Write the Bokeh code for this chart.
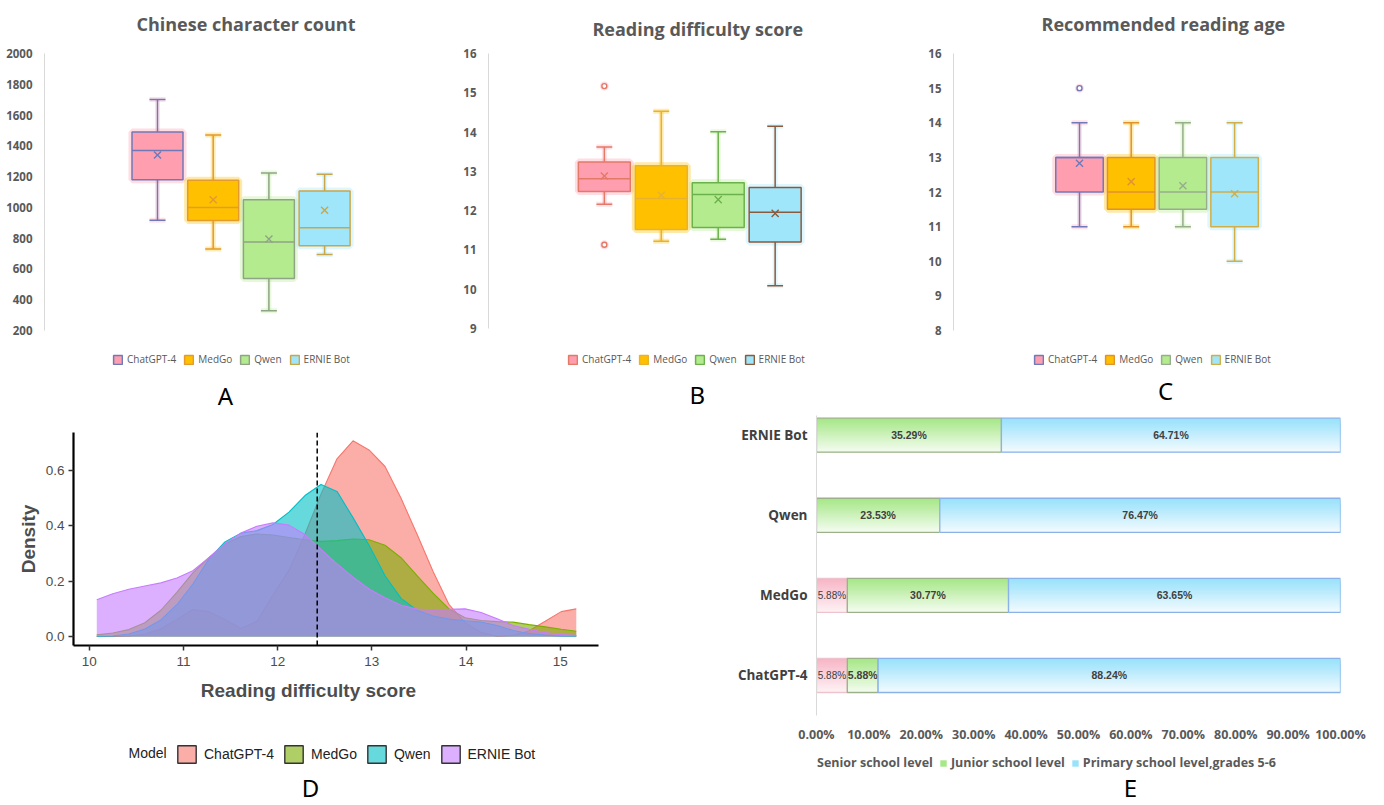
import numpy as np
from bokeh.plotting import figure
from bokeh.layouts import row, column
from bokeh.models import (ColumnDataSource, Legend, LegendItem, FixedTicker,
                          Range1d, Span, Label)
from bokeh.embed import file_html
from bokeh.resources import INLINE

# ---------------------------------------------------------------- data
models = ["ChatGPT-4", "MedGo", "Qwen", "ERNIE Bot"]

# A: Chinese character count (box statistics)
char_low = [917, 729, 328, 694]
char_q1 = [1180, 914, 538, 751]
char_med = [1369, 1000, 775, 868]
char_q3 = [1490, 1176, 1050, 1106]
char_high = [1701, 1470, 1223, 1215]
char_mean = [1340, 1050, 794, 981]
char_outliers = [[], [], [], []]
char_ticks = [200, 400, 600, 800, 1000, 1200, 1400, 1600, 1800, 2000]

# B: Reading difficulty score
diff_low = [12.16, 11.22, 11.27, 10.09]
diff_q1 = [12.49, 11.52, 11.57, 11.20]
diff_med = [12.81, 12.31, 12.41, 11.96]
diff_q3 = [13.24, 13.14, 12.71, 12.59]
diff_high = [13.62, 14.53, 14.01, 14.15]
diff_mean = [12.88, 12.39, 12.28, 11.93]
diff_outliers = [[15.17, 11.13], [], [], []]
diff_ticks = [9, 10, 11, 12, 13, 14, 15, 16]

# C: Recommended reading age
age_low = [11, 11, 11, 10]
age_q1 = [12, 11.5, 11.5, 11]
age_med = [13, 12, 12, 12]
age_q3 = [13, 13, 13, 13]
age_high = [14, 14, 14, 14]
age_mean = [12.83, 12.30, 12.18, 11.95]
age_outliers = [[15], [], [], []]
age_ticks = [8, 9, 10, 11, 12, 13, 14, 15, 16]

# D: density of reading difficulty score
dens_x = [10.08, 10.25, 10.42, 10.59, 10.76, 10.93, 11.10, 11.27, 11.44, 11.61,
          11.78, 11.95, 12.12, 12.29, 12.46, 12.63, 12.80, 12.97, 13.14, 13.31,
          13.48, 13.65, 13.82, 13.99, 14.16, 14.33, 14.50, 14.67, 14.84, 15.01, 15.17]
dens_chatgpt = [0.0, 0.0, 0.002, 0.008, 0.028, 0.062, 0.098, 0.090, 0.062, 0.029,
                0.055, 0.150, 0.240, 0.370, 0.515, 0.643, 0.708, 0.675, 0.615, 0.500,
                0.370, 0.235, 0.115, 0.050, 0.015, 0.001, 0.004, 0.021, 0.055, 0.090, 0.100]
dens_medgo = [0.006, 0.013, 0.025, 0.050, 0.095, 0.160, 0.230, 0.285, 0.335, 0.362,
              0.371, 0.367, 0.358, 0.350, 0.344, 0.347, 0.353, 0.350, 0.330, 0.285,
              0.220, 0.157, 0.100, 0.068, 0.058, 0.054, 0.052, 0.043, 0.035, 0.026, 0.019]
dens_qwen = [0.0, 0.002, 0.009, 0.027, 0.060, 0.115, 0.190, 0.280, 0.342, 0.374,
             0.383, 0.405, 0.450, 0.510, 0.550, 0.525, 0.430, 0.330, 0.220, 0.138,
             0.095, 0.074, 0.063, 0.057, 0.052, 0.040, 0.022, 0.011, 0.005, 0.002, 0.001]
dens_ernie = [0.133, 0.155, 0.171, 0.183, 0.194, 0.212, 0.238, 0.285, 0.336, 0.374,
              0.399, 0.411, 0.403, 0.369, 0.315, 0.263, 0.215, 0.172, 0.140, 0.113,
              0.099, 0.096, 0.098, 0.100, 0.087, 0.064, 0.040, 0.026, 0.014, 0.007, 0.004]
mean_difficulty = 12.42
dens_ticks_x = [10, 11, 12, 13, 14, 15]
dens_ticks_y = [0.0, 0.2, 0.4, 0.6]

# E: reading level shares (%)
levels = ["Senior school level", "Junior school level", "Primary school level,grades 5-6"]
senior = [5.88, 5.88, 0.0, 0.0]
junior = [5.88, 30.77, 23.53, 35.29]
primary = [88.24, 63.65, 76.47, 64.71]
pct_ticks = [0, 10, 20, 30, 40, 50, 60, 70, 80, 90, 100]

# ---------------------------------------------------------------- style
XL = "Open Sans"
GG = "Liberation Sans"
box_fill = ["#FF9EAF", "#FFC000", "#B4EB8E", "#A0E6FA"]
lines_A = ["#6F79B8", "#E39A2E", "#8FA386", "#C9A64A"]
lines_B = ["#E27A67", "#E8B22E", "#6CB24C", "#8A5A3F"]
lines_C = ["#7079BA", "#E0922E", "#97AD8E", "#D1AE48"]
gg_cols = ["#F8766D", "#7CAE00", "#00BFC4", "#C77CFF"]
OFF = -1.0e6   # legend proxy glyphs are parked far outside the visible ranges


def base_fig(w, h, **kw):
    p = figure(width=w, height=h, output_backend="svg", toolbar_location=None,
               outline_line_color=None, **kw)
    p.grid.visible = False
    return p


def footer(w, h, lb, rb, specs, leg_kw, leg_loc, letter, lx, ly):
    fw = w - lb - rb
    f = base_fig(w, h, x_axis_type=None, y_axis_type=None, x_range=Range1d(0, fw),
                 y_range=Range1d(0, h), min_border_left=lb, min_border_right=rb,
                 min_border_top=0, min_border_bottom=0)
    items = []
    for lab, kw in specs:
        r = f.quad(left=[OFF], right=[OFF + 1], top=[OFF + 1], bottom=[OFF], **kw)
        items.append(LegendItem(label=lab, renderers=[r]))
    leg = Legend(items=items, orientation="horizontal", location=leg_loc,
                 border_line_color=None, background_fill_alpha=0, **leg_kw)
    f.add_layout(leg)
    f.add_layout(Label(x=lx, y=ly, text=letter, text_align="center", text_baseline="middle",
                       text_font="Noto Sans", text_font_size="24px", text_color="#000000"))
    return f


def box_panel(title, title_px, title_cy, stats, lcols, yr, yticks, width, lb, fw,
              data_top, data_bot, c0f, step, bw):
    low, q1, med, q3, high, mean, outl = stats
    tb, fbot, height = 5, 330, 345
    ppu = (data_bot - data_top) / (yr[1] - yr[0])
    y_end = yr[1] + (data_top - tb) / ppu
    y_start = yr[0] - (fbot - data_bot) / ppu
    p = base_fig(width, height, x_axis_type=None,
                 x_range=Range1d(-c0f / step, (fw - c0f) / step),
                 y_range=Range1d(y_start, y_end),
                 min_border_left=lb, min_border_right=width - lb - fw,
                 min_border_top=tb, min_border_bottom=height - fbot)
    p.add_layout(Label(x=(title_px - c0f) / step, y=yr[1] + (data_top - title_cy) / ppu,
                       text=title, text_align="left", text_baseline="middle",
                       text_font=XL, text_font_size="18px", text_font_style="bold",
                       text_color="#595959"))
    ax = p.yaxis[0]
    ax.ticker = FixedTicker(ticks=yticks)
    ax.bounds = (yr[0], yr[1])
    ax.axis_line_color = "#D9D9D9"
    ax.major_tick_line_color = None
    ax.minor_tick_line_color = None
    ax.major_label_text_font = XL
    ax.major_label_text_font_size = "11.5px"
    ax.major_label_text_font_style = "bold"
    ax.major_label_text_color = "#595959"
    ax.major_label_standoff = 6
    hw = bw / step / 2
    cw = 8 / step
    for i, m in enumerate(models):
        fc, lc = box_fill[i], lcols[i]
        src = ColumnDataSource(dict(x=[i], l=[i - hw], r=[i + hw], cl=[i - cw], cr=[i + cw],
                                    low=[low[i]], q1=[q1[i]], med=[med[i]], q3=[q3[i]],
                                    high=[high[i]], mean=[mean[i]]))
        p.quad(left="l", right="r", bottom="q1", top="q3", source=src, fill_color=None,
               line_color=fc, line_width=7, line_alpha=0.35)
        for a, b in (("q3", "high"), ("q1", "low")):
            p.segment(x0="x", x1="x", y0=a, y1=b, source=src, line_color=fc, line_width=5, line_alpha=0.3)
            p.segment(x0="cl", x1="cr", y0=b, y1=b, source=src, line_color=fc, line_width=5, line_alpha=0.3)
            p.segment(x0="x", x1="x", y0=a, y1=b, source=src, line_color=lc, line_width=1.5)
            p.segment(x0="cl", x1="cr", y0=b, y1=b, source=src, line_color=lc, line_width=1.5)
        p.quad(left="l", right="r", bottom="q1", top="q3", source=src, fill_color=fc,
               line_color=lc, line_width=1.5)
        p.segment(x0="l", x1="r", y0="med", y1="med", source=src, line_color=lc, line_width=1.5)
        p.scatter(x="x", y="mean", source=src, marker="x", size=10, line_color=lc, line_width=1.4)
        if outl[i]:
            osrc = ColumnDataSource(dict(x=[i] * len(outl[i]), y=outl[i]))
            p.scatter(x="x", y="y", source=osrc, marker="circle", size=9, fill_color=fc,
                      fill_alpha=0.35, line_color=None)
            p.scatter(x="x", y="y", source=osrc, marker="circle", size=5, fill_color="#FFFFFF",
                      line_color=lc, line_width=1.4)
    return p


box_leg_kw = dict(label_text_font=XL, label_text_font_size="10px", label_text_color="#595959",
                  glyph_width=11, glyph_height=11, label_height=12, label_standoff=4,
                  spacing=7, padding=2, margin=0)


def box_footer(w, lb, rb, lcols, letter, leg_x, lx, ly):
    specs = [(m, dict(fill_color=box_fill[i], line_color=lcols[i], line_width=1.5))
             for i, m in enumerate(models)]
    return footer(w, 67, lb, rb, specs, box_leg_kw, (leg_x, 46), letter, lx, ly)


pa = box_panel("Chinese character count", 92, 23,
               (char_low, char_q1, char_med, char_q3, char_high, char_mean, char_outliers),
               lines_A, (200, 2000), char_ticks, 460, 44, 393, 53, 330, 113, 55.7, 51)
pb = box_panel("Reading difficulty score", 105, 28,
               (diff_low, diff_q1, diff_med, diff_q3, diff_high, diff_mean, diff_outliers),
               lines_B, (9, 16), diff_ticks, 460, 24, 406, 53, 328, 117, 57.5, 52.5)
pc = box_panel("Recommended reading age", 88, 23,
               (age_low, age_q1, age_med, age_q3, age_high, age_mean, age_outliers),
               lines_C, (8, 16), age_ticks, 464, 33, 407, 53, 330, 126, 51.7, 47.5)
fa = box_footer(460, 44, 23, lines_A, "A", 68, 181, 17)
fb = box_footer(460, 24, 30, lines_B, "B", 79, 211, 18)
fc_ = box_footer(464, 33, 24, lines_C, "C", 80, 212, 22)

# ---------------------------------------------------------------- D
pd_ = base_fig(660, 264, x_range=Range1d(9.833, 15.406), y_range=Range1d(-0.0325, 0.738),
               min_border_left=73, min_border_right=62, min_border_top=20, min_border_bottom=31)
for i, d in enumerate([dens_chatgpt, dens_medgo, dens_qwen, dens_ernie]):
    src = ColumnDataSource(dict(x=dens_x, y=d, z=[0.0] * len(d)))
    pd_.varea(x="x", y1="z", y2="y", source=src, fill_color=gg_cols[i], fill_alpha=0.6)
    pd_.line(x="x", y="y", source=src, line_color=gg_cols[i], line_width=1.1)
pd_.add_layout(Span(location=mean_difficulty, dimension="height", line_color="#000000",
                    line_width=1.5, line_dash="5 3"))
for ax in (pd_.xaxis[0], pd_.yaxis[0]):
    ax.axis_line_color = "#000000"
    ax.axis_line_width = 2.2
    ax.major_tick_line_color = "#333333"
    ax.major_tick_line_width = 1.5
    ax.major_tick_out = 5
    ax.major_tick_in = 0
    ax.minor_tick_line_color = None
    ax.major_label_text_font = GG
    ax.major_label_text_font_size = "13.5px"
    ax.major_label_text_color = "#4D4D4D"
    ax.axis_label_text_font = GG
    ax.axis_label_text_font_size = "19px"
    ax.axis_label_text_font_style = "bold"
    ax.axis_label_text_color = "#4D4D4D"
pd_.xaxis[0].ticker = FixedTicker(ticks=dens_ticks_x)
pd_.yaxis[0].ticker = FixedTicker(ticks=dens_ticks_y)
pd_.yaxis[0].major_label_overrides = {t: f"{t:.1f}" for t in dens_ticks_y}
pd_.yaxis[0].axis_label = "Density"
pd_.xaxis[0].major_label_standoff = 6
pd_.yaxis[0].major_label_standoff = 4
pd_.yaxis[0].axis_label_standoff = 4

d_leg_kw = dict(label_text_font=GG, label_text_font_size="14px", label_text_color="#222222",
                glyph_width=23, glyph_height=22, label_height=22, label_standoff=6,
                spacing=8, padding=2, margin=0)
d_specs = [(m, dict(fill_color=gg_cols[i], fill_alpha=0.6, line_color="#333333", line_width=1.4))
           for i, m in enumerate(models)]
fd = footer(660, 129, 73, 62, d_specs, d_leg_kw, (102, 40), "D", 237, 18)
fd.add_layout(Label(x=55, y=53, text="Model", text_align="left", text_baseline="middle",
                    text_font=GG, text_font_size="14px", text_color="#222222"))
fd.add_layout(Label(x=235, y=115, text="Reading difficulty score", text_align="center",
                    text_baseline="middle", text_font=GG, text_font_size="19px",
                    text_font_style="bold", text_color="#4D4D4D"))

# ---------------------------------------------------------------- E
pe = base_fig(724, 333, x_range=Range1d(0, 100), y_range=Range1d(-0.5, 3.246),
              min_border_left=156, min_border_right=44, min_border_top=3, min_border_bottom=30)
ypos = list(range(len(models)))
bar_h = 0.425
nb = 24
tops = ["#F7B6C6", "#A6E787", "#98E2FB"]
bots = ["#FDF1F4", "#F4FCF0", "#F2FAFE"]
borders = ["#EFC3CD", "#9DB08A", "#8AB2E8"]
shares = [senior, junior, primary]
starts = [[0.0] * 4, list(senior), [s + j for s, j in zip(senior, junior)]]


def hex2rgb(h):
    return np.array([int(h[k:k + 2], 16) for k in (1, 3, 5)], dtype=float)


for li, vals in enumerate(shares):
    idx = [k for k in ypos if vals[k] > 0]
    left = [starts[li][k] for k in idx]
    right = [min(100.0, starts[li][k] + vals[k]) for k in idx]
    yy = [ypos[k] for k in idx]
    c_top, c_bot = hex2rgb(tops[li]), hex2rgb(bots[li])
    for b in range(nb):
        t = b / (nb - 1)
        c = c_top * (1 - t) + c_bot * t
        col = "#%02x%02x%02x" % tuple(int(round(v)) for v in c)
        hgt = bar_h * (nb - b) / nb
        pe.hbar(y=[v - bar_h / 2 + hgt / 2 for v in yy], left=left, right=right, height=hgt,
                fill_color=col, line_color=None)
    pe.hbar(y=yy, left=left, right=right, height=bar_h, fill_color=None,
            line_color=borders[li], line_width=1.3)
    lab = ColumnDataSource(dict(x=[(a + b) / 2 for a, b in zip(left, right)], y=yy,
                                t=[f"{vals[k]:.2f}%" for k in idx]))
    pe.text(x="x", y="y", text="t", source=lab, text_align="center", text_baseline="middle",
            text_font_size="10.5px" if li else "10px", text_color="#404040",
            text_font_style="bold" if li else "normal")

ex, ey = pe.xaxis[0], pe.yaxis[0]
ex.ticker = FixedTicker(ticks=pct_ticks)
ex.major_label_overrides = {t: f"{t:.2f}%" for t in pct_ticks}
ex.axis_line_color = None
ex.major_tick_line_color = None
ex.minor_tick_line_color = None
ex.major_label_text_font = XL
ex.major_label_text_font_size = "12.5px"
ex.major_label_text_font_style = "bold"
ex.major_label_text_color = "#595959"
ex.major_label_standoff = 4
ey.ticker = FixedTicker(ticks=ypos)
ey.major_label_overrides = {k: models[k] for k in ypos}
ey.axis_line_color = "#D9D9D9"
ey.major_tick_line_color = None
ey.minor_tick_line_color = None
ey.major_label_text_font = XL
ey.major_label_text_font_size = "13.5px"
ey.major_label_text_font_style = "bold"
ey.major_label_text_color = "#404040"
ey.major_label_standoff = 3

e_leg_kw = dict(label_text_font=XL, label_text_font_size="12.5px", label_text_font_style="bold",
                label_text_color="#595959", glyph_width=8, glyph_height=8, label_height=14,
                label_standoff=4, spacing=6, padding=2, margin=0)
e_specs = [(levels[i], dict(fill_color=tops[i], line_color=None)) for i in range(3)]
fe = footer(724, 60, 156, 44, e_specs, e_leg_kw, (-11, 34), "E", 314, 18)

layout = column(row(column(pa, fa), column(pb, fb), column(pc, fc_)),
                row(column(pd_, fd), column(pe, fe)))
open("out.html", "w").write(file_html(layout, INLINE))
